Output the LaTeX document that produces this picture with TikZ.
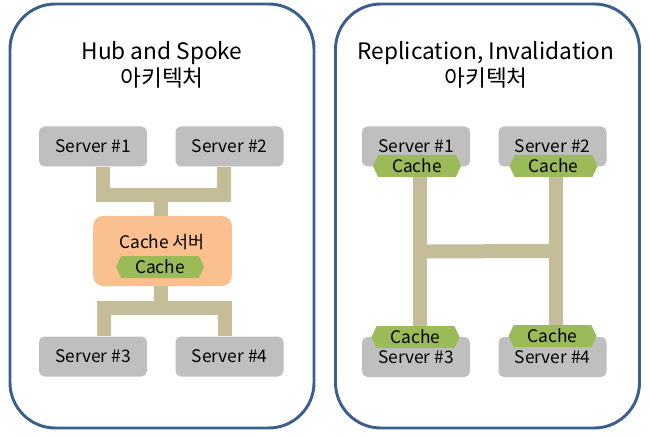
\documentclass[tikz,border=0pt]{standalone}
\usepackage{fontspec}
\setmainfont{Noto Sans CJK KR}
\usetikzlibrary{shapes.symbols,calc}
\definecolor{panelblue}{RGB}{59,94,140}
\definecolor{servergray}{RGB}{191,191,191}
\definecolor{bustan}{RGB}{196,189,151}
\definecolor{huborange}{RGB}{250,192,144}
\definecolor{cachegreen}{RGB}{155,187,89}
\begin{document}
\begin{tikzpicture}[x=0.75pt,y=-0.75pt,
  panel/.style={draw=panelblue,line width=2.2pt,rounded corners=34pt,minimum width=228pt,minimum height=318pt},
  paneltitle/.style={align=center,font=\fontsize{17}{20}\selectfont},
  server/.style={fill=servergray,rounded corners=4pt,minimum width=81pt,minimum height=30pt,inner sep=0pt,font=\fontsize{13}{15}\selectfont},
  hubbox/.style={fill=huborange,rounded corners=7.5pt,minimum width=104pt,minimum height=52.5pt,inner sep=0pt},
  cachetag/.style={signal,signal to=east and west,signal pointer angle=130,fill=cachegreen,minimum width=66pt,minimum height=16.5pt,inner sep=0pt,font=\fontsize{13}{15}\selectfont},
  bus/.style={draw=bustan,line width=10.5pt,line join=miter}]
\useasboundingbox (0,0) rectangle (649,438);

% hub and spoke
\node[panel] (hubpanel) at (162,216) {};
\node[paneltitle] (hubtitle) at (162,65) {Hub and Spoke\\아키텍처};
\node[server] (s1) at (93,146.5) {Server \#1};
\node[server] (s2) at (229.5,146.5) {Server \#2};
\node[server] (s3) at (93,356.5) {Server \#3};
\node[server] (s4) at (229.5,356.5) {Server \#4};
\node[hubbox] (hub) at (162.5,251) {};
\node[font=\fontsize{13}{15}\selectfont] (hubtext) at (162,242) {Cache 서버};
\node[cachetag] (hubcache) at (160,267) {Cache};
\coordinate (topjoin) at (161,195);
\coordinate (botjoin) at (161,307.5);
\draw[bus] ([xshift=7.5]s1.south) |- (topjoin) -| ([xshift=-4]s2.south);
\draw[bus] (topjoin) -- (topjoin |- hub.north);
\draw[bus] (botjoin |- hub.south) -- (botjoin);
\draw[bus] ([xshift=8]s3.north) |- (botjoin) -| ([xshift=-3.5]s4.north);

% replication, invalidation
\node[panel] (reppanel) at (487.5,216) {};
\node[paneltitle] (reptitle) at (486,65) {Replication, Invalidation\\아키텍처};
\node[server] (r1) at (416,146.5) {Server \#1};
\node[server] (r2) at (552.5,146.5) {Server \#2};
\node[server] (r3) at (416,357) {Server \#3};
\node[server] (r4) at (552.5,357) {Server \#4};
\node[cachetag] (c1) at (417,166) {Cache};
\node[cachetag] (c2) at (553.5,166) {Cache};
\node[cachetag] (c3) at (415.5,337) {Cache};
\node[cachetag] (c4) at (552.5,336) {Cache};
\draw[bus] ([xshift=2.5]c1.south) -- ([xshift=2.5]c1.south |- c3.north);
\draw[bus] ([xshift=1.5]c2.south) -- ([xshift=1.5]c2.south |- c4.north);
\draw[bus] ($(c1.south)!.5!(c3.north)$) -- ($(c2.south)!.5!(c4.north)$);
\end{tikzpicture}
\end{document}
